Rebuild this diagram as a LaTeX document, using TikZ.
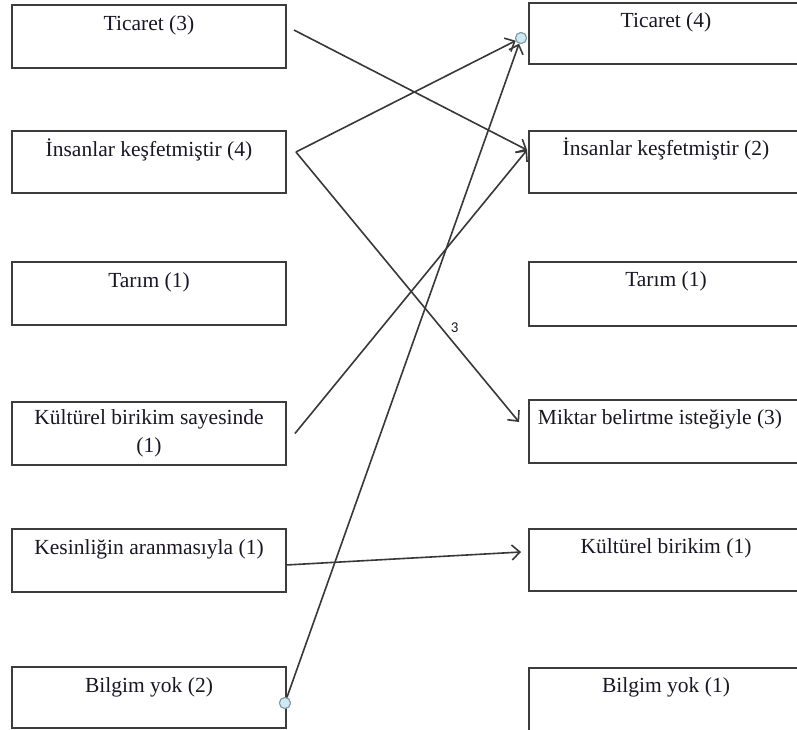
\documentclass[tikz,border=0pt]{standalone}
\usepackage{fontspec}
\setmainfont{Liberation Serif}
\newfontfamily\lblfont{Carlito}
\usetikzlibrary{arrows.meta,calc}
\definecolor{boxline}{HTML}{3C3C3C}
\definecolor{conline}{HTML}{383838}
\definecolor{txtcol}{HTML}{1A1626}
\definecolor{dotfill}{HTML}{CFE9F1}
\definecolor{dotline}{HTML}{7E98A4}
\tikzset{
  box/.style={draw=boxline, line width=1.9pt, rectangle, inner sep=0pt},
  txt/.style={anchor=base, inner sep=0pt, text=txtcol, font=\fontsize{21.5}{28}\selectfont, align=center},
  conn/.style={draw=conline, line width=1.6pt, -{Straight Barb[length=8pt,width=15pt,line width=1.6pt]}},
  dot/.style={circle, draw=dotline, fill=dotfill, line width=1pt, minimum size=11pt, inner sep=0pt},
  lbl/.style={inner sep=0pt, text=txtcol, font=\lblfont\fontsize{15}{17}\selectfont}
}
\begin{document}
\begin{tikzpicture}[x=1pt,y=-1pt]
\useasboundingbox (0,0) rectangle (797,730);
\clip (0,0) rectangle (797,730);
\fill[white] (0,0) rectangle (797,730);
% left boxes
\node[box, minimum width=274pt, minimum height=63pt] (l1) at (149,36.5) {};
\node[box, minimum width=274pt, minimum height=62pt] (l2) at (149,162) {};
\node[box, minimum width=274pt, minimum height=63pt] (l3) at (149,293.5) {};
\node[box, minimum width=274pt, minimum height=63pt] (l4) at (149,433.5) {};
\node[box, minimum width=274pt, minimum height=63pt] (l5) at (149,560.5) {};
\node[box, minimum width=274pt, minimum height=61pt] (l6) at (149,697.5) {};
% right boxes
\node[box, minimum width=274pt, minimum height=61pt] (r1) at (666,33.5) {};
\node[box, minimum width=274pt, minimum height=62pt] (r2) at (666,162) {};
\node[box, minimum width=274pt, minimum height=64pt] (r3) at (666,294) {};
\node[box, minimum width=274pt, minimum height=63pt] (r4) at (666,431.5) {};
\node[box, minimum width=274pt, minimum height=62pt] (r5) at (666,560) {};
\node[box, minimum width=274pt, minimum height=72pt] (r6) at (666,704) {};
% texts
\node[txt] (t1) at ([yshift=-26pt]l1.north) {Ticaret (3)};
\node[txt] (t2) at ([yshift=-26pt]l2.north) {İnsanlar keşfetmiştir (4)};
\node[txt] (t3) at ([yshift=-26pt]l3.north) {Tarım (1)};
\node[txt] (t4) at ([yshift=-51pt]l4.north) {Kültürel birikim sayesinde\\(1)};
\node[txt] (t5) at ([yshift=-26pt]l5.north) {Kesinliğin aranmasıyla (1)};
\node[txt] (t6) at ([yshift=-26pt]l6.north) {Bilgim yok (2)};
\node[txt] (u1) at ([yshift=-25pt]r1.north) {Ticaret (4)};
\node[txt] (u2) at ([yshift=-25pt]r2.north) {İnsanlar keşfetmiştir (2)};
\node[txt] (u3) at ([yshift=-25pt]r3.north) {Tarım (1)};
\node[txt] (u4) at ([yshift=-25pt,xshift=-6pt]r4.north) {Miktar belirtme isteğiyle (3)};
\node[txt] (u5) at ([yshift=-25pt]r5.north) {Kültürel birikim (1)};
\node[txt] (u6) at ([yshift=-25pt]r6.north) {Bilgim yok (1)};
% junction points
\coordinate (v2) at ([xshift=9pt,yshift=10pt]l2.east);
\node[dot] (c1) at ([xshift=-7pt,yshift=-4.5pt]r1.west) {};
\node[dot] (c2) at ([xshift=-2pt,yshift=-5.5pt]l6.east) {};
% connectors
\draw[conn] ([xshift=7pt,yshift=6.5pt]l1.east) -- ([xshift=-1pt,yshift=12pt]r2.west);
\draw[conn] (v2) -- (c1);
\draw[conn] (v2) -- node[lbl, pos=0.66, xshift=11.5pt, yshift=3pt] (n3) {3} ([xshift=-9pt,yshift=9.5pt]r4.west);
\draw[conn] ([xshift=8pt]l4.east) -- ([xshift=-1pt,yshift=12pt]r2.west);
\draw[conn] ([xshift=-1pt,yshift=-4.5pt]l5.east) -- ([xshift=-7pt,yshift=8pt]r5.west);
\draw[conn] (c2) -- (c1);
\node[dot] at (c1) {};
\node[dot] at (c2) {};
\end{tikzpicture}
\end{document}
